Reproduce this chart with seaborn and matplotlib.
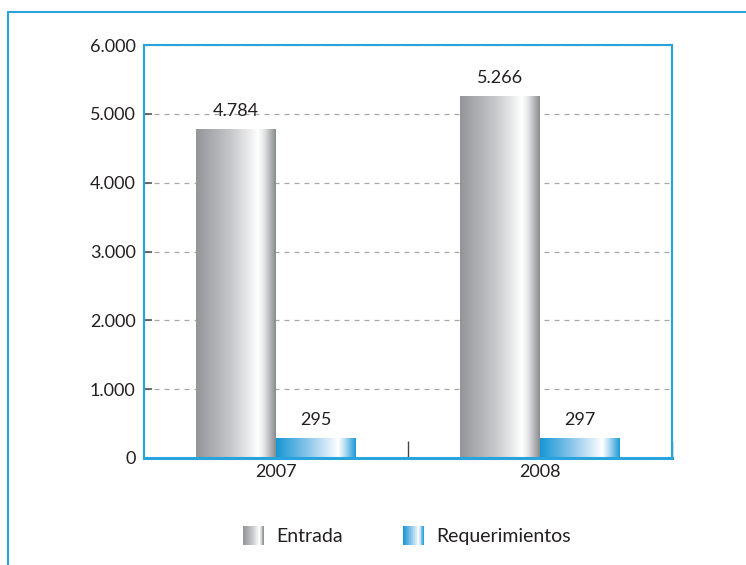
import numpy as np
import pandas as pd
import matplotlib
matplotlib.use("Agg")
import matplotlib.pyplot as plt
import seaborn as sns
from matplotlib.colors import LinearSegmentedColormap
from matplotlib.legend_handler import HandlerBase
from matplotlib.patches import Rectangle, Patch
from matplotlib.ticker import FuncFormatter, FixedLocator
from matplotlib.lines import Line2D

years = ["2007", "2008"]
series = ["Entrada", "Requerimientos"]
entrada = [4784, 5266]
requerimientos = [295, 297]
yticks = [0, 1000, 2000, 3000, 4000, 5000, 6000]

BLUE = "#29a3dc"
TXT = "#231f20"
FS = 13
sns.set_theme(style="white")
plt.rcParams["font.family"] = ["Lato", "DejaVu Sans"]

df = pd.DataFrame({
    "year": years * 2,
    "serie": [series[0]] * 2 + [series[1]] * 2,
    "value": entrada + requerimientos,
})

grey_cmap = LinearSegmentedColormap.from_list(
    "g", [(0.0, "#949599"), (0.45, "#c8c9cc"), (0.78, "#ffffff"), (0.85, "#e6e7e8"), (1.0, "#8a8b8f")])
blue_cmap = LinearSegmentedColormap.from_list(
    "b", [(0.0, "#1696d4"), (0.4, "#8cc6ea"), (0.78, "#ffffff"), (0.85, "#c4e2f4"), (1.0, "#1a9ad7")])
cmaps = [grey_cmap, blue_cmap]

fig = plt.figure(figsize=(7.46, 5.65), dpi=100)
ax = fig.add_axes([144 / 746, 107 / 565, 528 / 746, 413 / 565])

sns.barplot(data=df, x="year", y="value", hue="serie", hue_order=series,
            palette=["#bbbbbb", BLUE], width=0.606, saturation=1, legend=False,
            ax=ax, errorbar=None)

ax.set_xlim(-0.5, 1.5)
ax.set_ylim(0, 6000)

grad = np.linspace(0, 1, 256).reshape(1, -1)
for ci, cont in enumerate(ax.containers):
    for p in cont.patches:
        x0, y0 = p.get_x(), p.get_y()
        w, h = p.get_width(), p.get_height()
        im = ax.imshow(grad, cmap=cmaps[ci], aspect="auto",
                       extent=[x0, x0 + w, y0, y0 + h], zorder=2, interpolation="bilinear")
        im.set_clip_path(p)
        p.set_facecolor("none")
        p.set_edgecolor("none")
    vals = [c.get_height() for c in cont.patches]
    ax.bar_label(cont, labels=[f"{v:,.0f}".replace(",", ".") for v in vals],
                 padding=7, fontsize=FS, color=TXT)
ax.set_xlim(-0.5, 1.5)
ax.set_ylim(0, 6000)

ax.set_yticks(yticks)
ax.yaxis.set_major_formatter(FuncFormatter(lambda v, _: f"{v:,.0f}".replace(",", ".")))
ax.grid(axis="y", linestyle=(0, (4, 4)), color="#a8a8a8", linewidth=0.9, zorder=0)
ax.set_axisbelow(True)
ax.tick_params(axis="y", direction="in", length=6, width=1.2, color="#555555",
               labelsize=FS, labelcolor=TXT, pad=6, left=True)
ax.tick_params(axis="x", which="major", length=0, labelsize=FS, labelcolor=TXT, pad=4)
ax.xaxis.set_minor_locator(FixedLocator([0.5, 1.5]))
ax.tick_params(axis="x", which="minor", direction="in", length=12, width=1, color="#444444", bottom=True)
ax.set_xlabel("")
ax.set_ylabel("")

for side, sp in ax.spines.items():
    sp.set_visible(True)
    sp.set_color(BLUE)
    sp.set_linewidth(1.5)
ax.spines["bottom"].set_linewidth(2.2)


class GradHandler(HandlerBase):
    def __init__(self, cmap):
        super().__init__()
        self.cmap = cmap

    def create_artists(self, legend, orig_handle, xdescent, ydescent, width, height, fontsize, trans):
        n = 30
        arts = []
        for i in range(n):
            c = self.cmap((i + 0.5) / n)
            r = Rectangle((-xdescent + width * i / n, -ydescent - height * 0.05), width / n + 0.3,
                          height * 1.1, facecolor=c, edgecolor="none", transform=trans)
            arts.append(r)
        return arts


h1 = Patch(label=series[0])
h2 = Patch(label=series[1])
fig.legend(handles=[h1, h2], labels=series, loc="center", bbox_to_anchor=(0.546, 1 - 536 / 565),
           ncol=2, frameon=False, fontsize=14, handlelength=1.03, handleheight=1.0,
           handletextpad=0.67, columnspacing=3.1, labelcolor=TXT,
           handler_map={h1: GradHandler(grey_cmap), h2: GradHandler(blue_cmap)})

# outer frame
fig.add_artist(Line2D([8 / 746, 1.0], [1 - 12 / 565, 1 - 12 / 565], color=BLUE, lw=1.5,
                      transform=fig.transFigure))
fig.add_artist(Line2D([8 / 746, 8 / 746], [0.0, 1 - 12 / 565], color=BLUE, lw=1.5,
                      transform=fig.transFigure))

fig.savefig("out.png", dpi=100)
